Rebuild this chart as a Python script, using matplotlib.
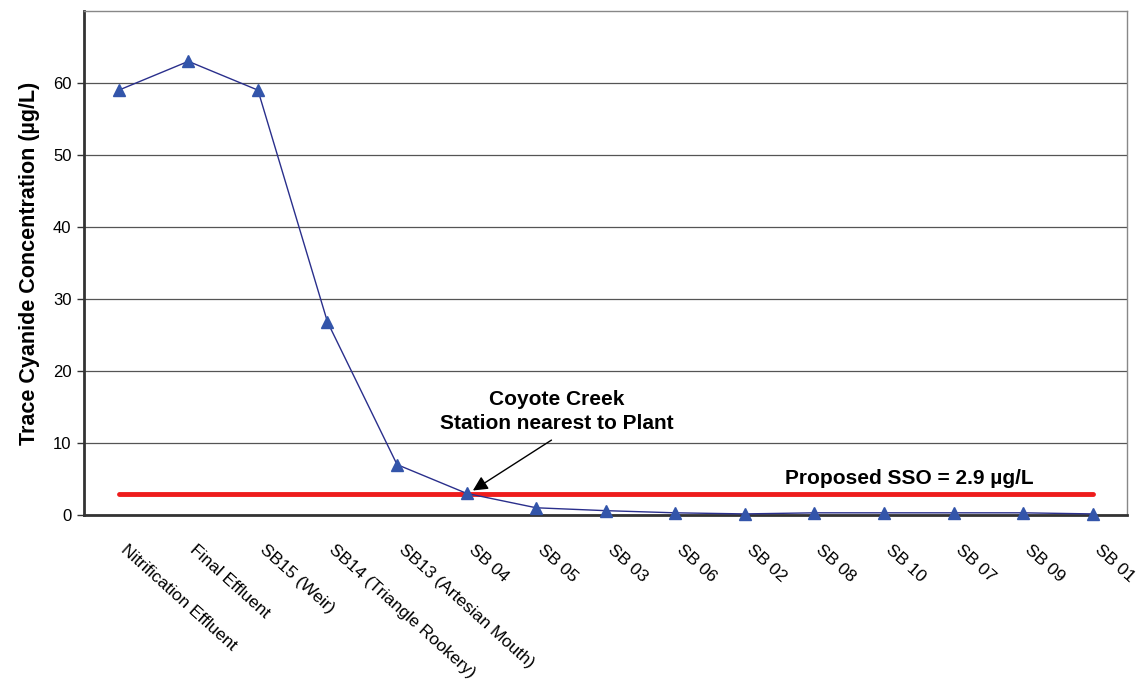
import matplotlib
matplotlib.use("Agg")
import matplotlib.pyplot as plt
from matplotlib.transforms import ScaledTranslation

plt.rcParams['font.family'] = ['Liberation Sans', 'DejaVu Sans']

stations = ["Nitrification Effluent", "Final Effluent", "SB15 (Weir)",
            "SB14 (Triangle Rookery)", "SB13 (Artesian Mouth)", "SB 04",
            "SB 05", "SB 03", "SB 06", "SB 02", "SB 08", "SB 10", "SB 07",
            "SB 09", "SB 01"]
cyanide = [59.0, 63.0, 59.0, 26.8, 7.0, 3.0, 1.0, 0.6, 0.3, 0.15,
           0.3, 0.3, 0.3, 0.3, 0.15]
sso_value = 2.9
y_ticks = [0, 10, 20, 30, 40, 50, 60]

fig = plt.figure(figsize=(11.4, 6.83), dpi=100)
ax = fig.add_axes([0.0737, 0.246, 0.9153, 0.738])

x = list(range(len(stations)))
ax.plot(x, cyanide, color='#2a2f8c', lw=1.0, marker='^', ms=8,
        markerfacecolor='#3355aa', markeredgecolor='#3355aa', zorder=3,
        clip_on=False)
ax.plot([x[0], x[-1]], [sso_value, sso_value], color='#ee1c1c', lw=3.5,
        solid_capstyle='round', zorder=2)

ax.set_xlim(-0.5, len(stations) - 0.5)
ax.set_ylim(0, 70)
ax.set_yticks(y_ticks)
ax.set_yticklabels([str(v) for v in y_ticks], fontsize=12)
ax.yaxis.grid(True, color='#555555', lw=0.9)
ax.set_axisbelow(True)
ax.tick_params(axis='y', length=5, width=1, color='#333333', pad=4)
ax.tick_params(axis='x', length=0, pad=0)

# station names slanted downwards, starting just right of each tick
ax.set_xticks(x)
ax.set_xticklabels(stations, rotation=-42, ha='left', va='top',
                   rotation_mode='anchor', fontsize=12.5)
shift = ScaledTranslation(0.09, -0.27, fig.dpi_scale_trans)
for lbl in ax.get_xticklabels():
    lbl.set_transform(lbl.get_transform() + shift)

for side in ['left', 'bottom']:
    ax.spines[side].set_color('#333333')
    ax.spines[side].set_linewidth(2.0)
for side in ['right', 'top']:
    ax.spines[side].set_color('#888888')
    ax.spines[side].set_linewidth(1.0)

ax.set_ylabel("Trace Cyanide Concentration (µg/L)", fontsize=15.5,
              fontweight='bold', labelpad=9)

ax.text(6.29, 11.4, "Coyote Creek\nStation nearest to Plant",
        ha='center', va='bottom', fontsize=15, fontweight='bold',
        linespacing=1.35)
ax.annotate("", xy=(5.09, 3.4), xytext=(6.22, 10.4),
            arrowprops=dict(arrowstyle='-|>', color='black', lw=1.0,
                            mutation_scale=22, shrinkA=0, shrinkB=0))
ax.text(11.37, sso_value + 0.9, "Proposed SSO = 2.9 µg/L", ha='center',
        va='bottom', fontsize=15, fontweight='bold')

fig.savefig("out.png", dpi=100)
